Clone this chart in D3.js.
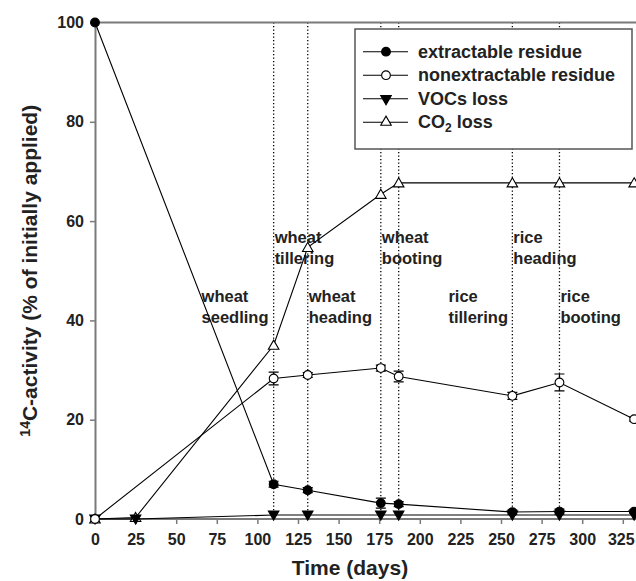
<!DOCTYPE html>
<html>
<head>
<meta charset="utf-8">
<script src="https://d3js.org/d3.v7.min.js"></script>
<style>
  body { margin: 0; background: #fff; }
  svg { display: block; font-family: "Liberation Sans", Arial, sans-serif; }
</style>
</head>
<body>
<div id="chart"></div>
<script>
// sampling days (days after application)
var days = [0, 25, 110, 131, 176, 187, 257, 286, 332];

// % of initially applied 14C (null = not sampled)
var extractable    = [100, null, 7.0, 5.8, 3.2, 3.0, 1.4, 1.5, 1.5];
var extractableErr = [0, null, 0.6, 0.5, 1.0, 0.5, 0.4, 0.5, 0.3];
var nonextractable    = [0, null, 28.3, 29.0, 30.4, 28.7, 24.8, 27.5, 20.1];
var nonextractableErr = [0, null, 1.3, 0.5, 0.6, 1.1, 0.7, 1.7, 0.4];
var vocs = [0, 0, 0.8, 0.8, 0.8, 0.8, 0.8, 0.8, 0.8];
var co2  = [0, 0.3, 35.0, 54.7, 65.4, 67.7, 67.7, 67.7, 67.7];

// growth stage markers
var stageDays = [110, 131, 176, 187, 257, 286];
var stageLabels = [
  {day: 65,  row: "low",  lines: ["wheat", "seedling"]},
  {day: 110, row: "high", lines: ["wheat", "tillering"]},
  {day: 131, row: "low",  lines: ["wheat", "heading"]},
  {day: 176, row: "high", lines: ["wheat", "booting"]},
  {day: 217, row: "low",  lines: ["rice", "tillering"]},
  {day: 257, row: "high", lines: ["rice", "heading"]},
  {day: 286, row: "low",  lines: ["rice", "booting"]}
];

var xTicks = [0, 25, 50, 75, 100, 125, 150, 175, 200, 225, 250, 275, 300, 325];
var yTicks = [0, 20, 40, 60, 80, 100];

var width = 636, height = 581;
var axisColor = "#7a7a7a";
var textColor = "#222";

var svg = d3.select("#chart").append("svg")
    .attr("width", width)
    .attr("height", height);

var xScale = d3.scaleLinear().domain([0, 350]).range([95, 95 + 350 * 1.624]);
var yScale = d3.scaleLinear().domain([0, 100]).range([519, 22.5]);

// dotted stage lines
svg.selectAll(".stage")
  .data(stageDays)
 .enter()
  .append("line")
  .attr("x1", function(d) { return xScale(d); })
  .attr("x2", function(d) { return xScale(d); })
  .attr("y1", yScale(100))
  .attr("y2", yScale(0))
  .style("stroke", "#000")
  .style("stroke-width", 1.3)
  .style("stroke-dasharray", "1.3,2.2");

// top frame line
svg.append("line")
  .attr("x1", xScale(0)).attr("x2", width)
  .attr("y1", yScale(100)).attr("y2", yScale(100))
  .style("stroke", axisColor).style("stroke-width", 2);

// axes
var xAxis = d3.axisBottom(xScale).tickValues(xTicks).tickSize(5).tickPadding(10).tickSizeOuter(0);
var yAxis = d3.axisLeft(yScale).tickValues(yTicks).tickSize(5).tickPadding(6).tickSizeOuter(0);

var gx = svg.append("g").attr("transform", "translate(0," + yScale(0) + ")").call(xAxis);
var gy = svg.append("g").attr("transform", "translate(" + xScale(0) + ",0)").call(yAxis);

// axis line runs on past the right edge
gx.select(".domain").attr("d", "M" + xScale(0) + ",0H" + width);

[gx, gy].forEach(function(g) {
  g.select(".domain").style("stroke", axisColor).style("stroke-width", 2);
  g.selectAll(".tick line").style("stroke", axisColor).style("stroke-width", 1.5);
  g.selectAll("text")
    .style("fill", textColor)
    .style("font-size", "16px")
    .style("font-weight", "bold");
});

// keep the last tick label inside the picture
gx.selectAll(".tick text")
  .filter(function(d) { return d === 325; })
  .attr("dx", -2);

// axis titles
svg.append("text")
  .attr("x", 350)
  .attr("y", 575)
  .attr("text-anchor", "middle")
  .style("font-size", "21px")
  .style("font-weight", "bold")
  .style("fill", textColor)
  .text("Time (days)");

var yTitle = svg.append("text")
  .attr("transform", "translate(37," + ((yScale(0) + yScale(100)) / 2) + ") rotate(-90)")
  .attr("text-anchor", "middle")
  .style("font-size", "21px")
  .style("font-weight", "bold")
  .style("fill", textColor);
yTitle.append("tspan").attr("dy", -7).style("font-size", "14px").text("14");
yTitle.append("tspan").attr("dy", 7).text("C-activity (% of initially applied)");

// stage labels
var labelBase = {high: 243, low: 302};
var labelGroups = svg.selectAll(".stage-label")
  .data(stageLabels)
 .enter()
  .append("text")
  .attr("class", "stage-label")
  .style("font-size", "16.5px")
  .style("font-weight", "bold")
  .style("fill", textColor);
labelGroups.each(function(d) {
  var t = d3.select(this);
  d.lines.forEach(function(s, i) {
    t.append("tspan")
      .attr("x", xScale(d.day) + 1)
      .attr("y", labelBase[d.row] + i * 20.5)
      .text(s);
  });
});

// series
function toPoints(vals, errs) {
  var pts = [];
  vals.forEach(function(v, i) {
    if (v !== null) pts.push({day: days[i], value: v, err: errs ? errs[i] : 0});
  });
  return pts;
}

var series = [
  {name: "extractable residue", points: toPoints(extractable, extractableErr), symbol: d3.symbolCircle, size: 60, fill: "#000", rotate: 0},
  {name: "nonextractable residue", points: toPoints(nonextractable, nonextractableErr), symbol: d3.symbolCircle, size: 60, fill: "#fff", rotate: 0},
  {name: "VOCs loss", points: toPoints(vocs), symbol: d3.symbolTriangle, size: 48, fill: "#000", rotate: 180},
  {name: "CO2 loss", points: toPoints(co2), symbol: d3.symbolTriangle, size: 48, fill: "#fff", rotate: 0}
];

var line = d3.line()
  .x(function(d) { return xScale(d.day); })
  .y(function(d) { return yScale(d.value); });

series.forEach(function(s) {
  svg.append("path")
    .datum(s.points)
    .attr("d", line)
    .style("fill", "none")
    .style("stroke", "#000")
    .style("stroke-width", 1.1);
});

// error bars
series.forEach(function(s) {
  var withErr = s.points.filter(function(d) { return d.err > 0; });
  var g = svg.append("g");
  g.selectAll(".eb")
    .data(withErr)
   .enter()
    .append("path")
    .attr("d", function(d) {
      var x = xScale(d.day), y1 = yScale(d.value + d.err), y2 = yScale(d.value - d.err);
      return "M" + (x - 5) + "," + y1 + "H" + (x + 5) +
             "M" + x + "," + y1 + "V" + y2 +
             "M" + (x - 5) + "," + y2 + "H" + (x + 5);
    })
    .style("fill", "none")
    .style("stroke", "#000")
    .style("stroke-width", 1.2);
});

// markers (draw in reverse so extractable sits on top)
series.slice().reverse().forEach(function(s) {
  svg.append("g").selectAll("path")
    .data(s.points)
   .enter()
    .append("path")
    .attr("transform", function(d) {
      var dy = s.symbol === d3.symbolTriangle ? (s.rotate ? -1 : 1) : 0;
      return "translate(" + xScale(d.day) + "," + (yScale(d.value) + dy) + ") rotate(" + s.rotate + ")";
    })
    .attr("d", d3.symbol().type(s.symbol).size(s.size))
    .style("fill", s.fill)
    .style("stroke", "#000")
    .style("stroke-width", 1.1);
});

// legend
var legend = svg.append("g");
legend.append("rect")
  .attr("x", 355).attr("y", 29)
  .attr("width", 277).attr("height", 120)
  .style("fill", "#fff")
  .style("stroke", "#555")
  .style("stroke-width", 1.5);

series.forEach(function(s, i) {
  var y = 51.7 + i * 23.5;
  legend.append("line")
    .attr("x1", 363).attr("x2", 408)
    .attr("y1", y).attr("y2", y)
    .style("stroke", "#000").style("stroke-width", 1.1);
  legend.append("path")
    .attr("transform", "translate(386," + y + ") rotate(" + s.rotate + ")")
    .attr("d", d3.symbol().type(s.symbol).size(s.size))
    .style("fill", s.fill)
    .style("stroke", "#000")
    .style("stroke-width", 1.1);
  var t = legend.append("text")
    .attr("x", 418).attr("y", y + 6)
    .style("font-size", "18px")
    .style("font-weight", "bold")
    .style("fill", textColor);
  if (s.name === "CO2 loss") {
    t.append("tspan").text("CO");
    t.append("tspan").attr("dy", 4).style("font-size", "12px").text("2");
    t.append("tspan").attr("dy", -4).text(" loss");
  } else {
    t.text(s.name);
  }
});
</script>
</body>
</html>
